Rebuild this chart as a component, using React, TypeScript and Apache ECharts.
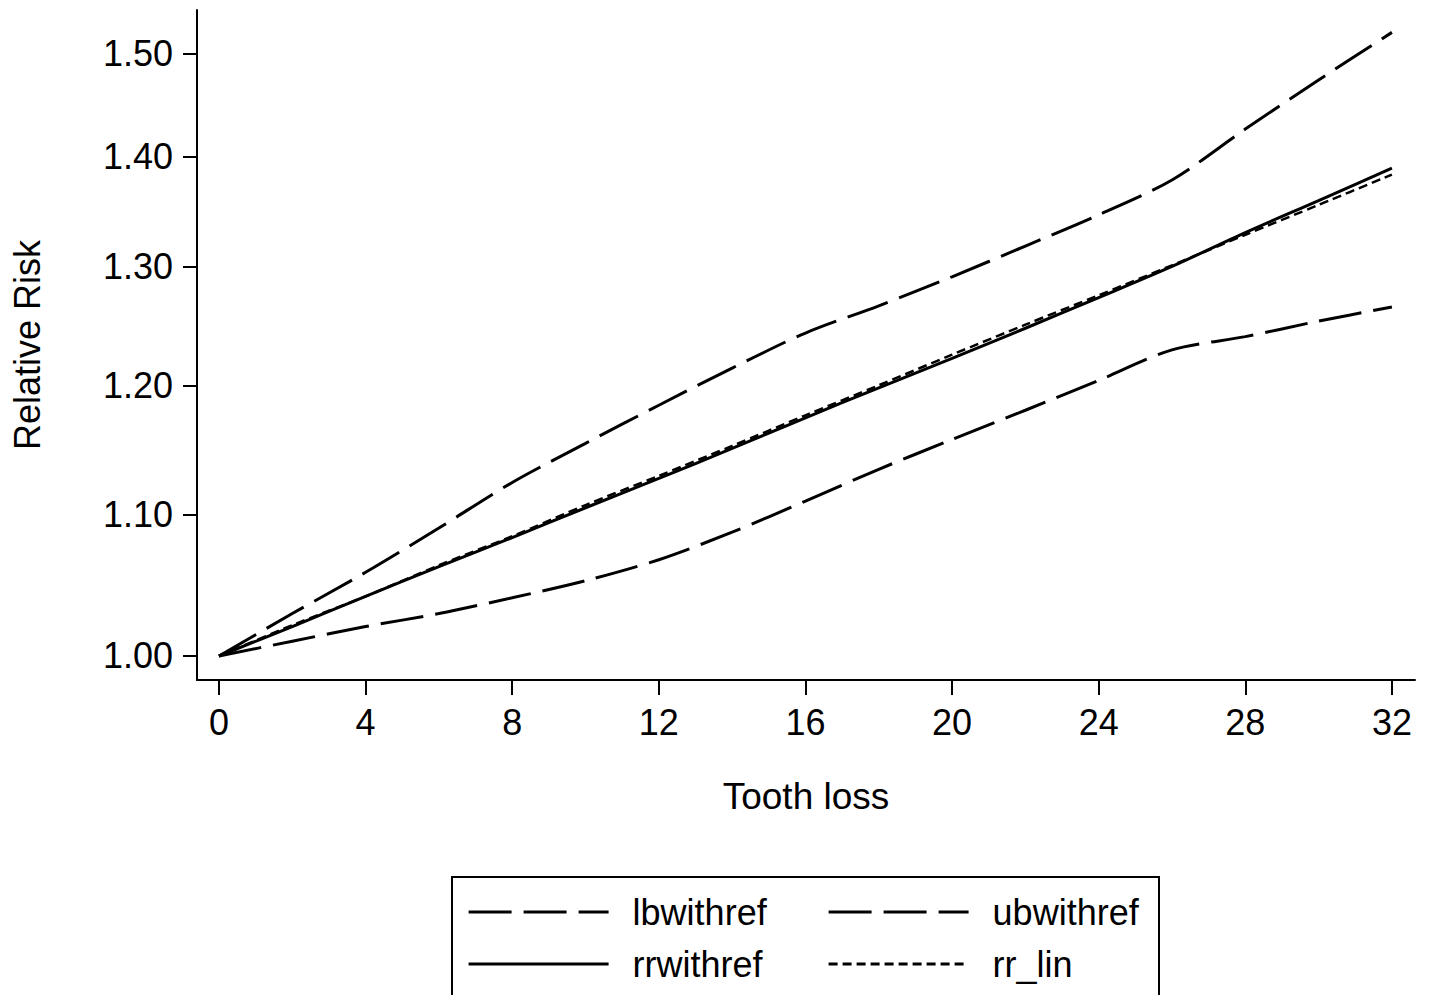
import React, { useEffect, useRef } from "react";
import * as echarts from "echarts";

const toothLoss = [0, 2, 4, 6, 8, 10, 12, 14, 16, 18, 20, 22, 24, 26, 28, 30, 32];
const lbwithref = [1.0, 1.01, 1.02, 1.029, 1.04, 1.052, 1.067, 1.087, 1.11, 1.134, 1.157, 1.18, 1.204, 1.229, 1.24, 1.253, 1.265];
const ubwithref = [1.0, 1.029, 1.058, 1.09, 1.124, 1.154, 1.184, 1.214, 1.243, 1.266, 1.291, 1.318, 1.346, 1.378, 1.426, 1.474, 1.522];
const rrwithref = [1.0, 1.02, 1.041, 1.062, 1.083, 1.105, 1.127, 1.15, 1.174, 1.198, 1.222, 1.247, 1.273, 1.3, 1.33, 1.359, 1.389];
const rrLin = [1.0, 1.021, 1.041, 1.063, 1.084, 1.107, 1.129, 1.152, 1.176, 1.2, 1.225, 1.25, 1.275, 1.301, 1.328, 1.355, 1.383];

const xTicks = [0, 4, 8, 12, 16, 20, 24, 28, 32];
const yTicks = [1.0, 1.1, 1.2, 1.3, 1.4, 1.5];

const FONT = "'Liberation Sans', Arial, sans-serif";

function pairs(ys: number[]) {
  return toothLoss.map((x, i) => [x, ys[i]]);
}

export default function App() {
  const ref = useRef<HTMLDivElement>(null);
  useEffect(() => {
    document.body.style.margin = "0";
    const chart = echarts.init(ref.current!, null, { renderer: "svg" });
    const lineBase = { color: "#000", width: 3 };
    const legendCommon = {
      orient: "vertical",
      top: 894,
      padding: 0,
      itemGap: 16,
      itemWidth: 140,
      itemHeight: 20,
      itemStyle: { opacity: 0 },
      lineStyle: { width: 3.2, color: "#000" },
      textStyle: { fontFamily: FONT, fontSize: 36, color: "#000", lineHeight: 36, padding: [0, 0, 0, 19] },
    };
    chart.setOption({
      animation: false,
      backgroundColor: "#fff",
      grid: { left: 197, right: 16, top: 10, bottom: 315, containLabel: false },
      xAxis: {
        type: "value",
        min: -0.6,
        max: 32.63,
        name: "Tooth loss",
        nameLocation: "middle",
        nameGap: 98,
        nameTextStyle: { fontFamily: FONT, fontSize: 37, color: "#000" },
        axisLine: { show: true, onZero: false, lineStyle: { color: "#000", width: 2 } },
        axisTick: { show: true, length: 15, lineStyle: { color: "#000", width: 2 }, customValues: xTicks },
        axisLabel: { margin: 24, fontFamily: FONT, fontSize: 36, color: "#000", customValues: xTicks },
        splitLine: { show: false },
      },
      yAxis: {
        type: "log",
        logBase: 10,
        min: 0.98396,
        max: 1.5451,
        name: "Relative Risk",
        nameLocation: "middle",
        nameGap: 152,
        nameRotate: 90,
        nameTextStyle: { fontFamily: FONT, fontSize: 36, color: "#000" },
        axisLine: { show: true, onZero: false, lineStyle: { color: "#000", width: 2 } },
        axisTick: { show: true, length: 14, lineStyle: { color: "#000", width: 2 }, customValues: yTicks },
        axisLabel: {
          margin: 24,
          fontFamily: FONT,
          fontSize: 36,
          color: "#000",
          customValues: yTicks,
          formatter: (v: number) => Number(v).toFixed(2),
        },
        splitLine: { show: false },
        minorTick: { show: false },
        minorSplitLine: { show: false },
      },
      legend: [
        { ...legendCommon, left: 467, data: ["lbwithref", "rrwithref"] },
        { ...legendCommon, left: 827, data: ["ubwithref", "rr_lin"] },
      ],
      graphic: [
        {
          type: "rect",
          shape: { x: 452, y: 877, width: 707, height: 200 },
          style: { fill: "none", stroke: "#000", lineWidth: 2 },
          silent: true,
        },
      ],
      series: [
        {
          name: "lbwithref",
          type: "line",
          data: pairs(lbwithref),
          symbol: "none",
          smooth: 0.3,
          color: "#000",
          lineStyle: { ...lineBase, type: [43, 12] },
        },
        {
          name: "ubwithref",
          type: "line",
          data: pairs(ubwithref),
          symbol: "none",
          smooth: 0.3,
          color: "#000",
          lineStyle: { ...lineBase, type: [43, 12] },
        },
        {
          name: "rrwithref",
          type: "line",
          data: pairs(rrwithref),
          symbol: "none",
          smooth: 0.3,
          color: "#000",
          lineStyle: { ...lineBase, type: "solid" },
        },
        {
          name: "rr_lin",
          type: "line",
          data: pairs(rrLin),
          symbol: "none",
          smooth: 0.3,
          color: "#000",
          lineStyle: { color: "#000", width: 2.5, type: [9, 5] },
        },
      ],
    });
    return () => chart.dispose();
  }, []);
  return <div ref={ref} style={{ width: 1431, height: 995 }} />;
}
